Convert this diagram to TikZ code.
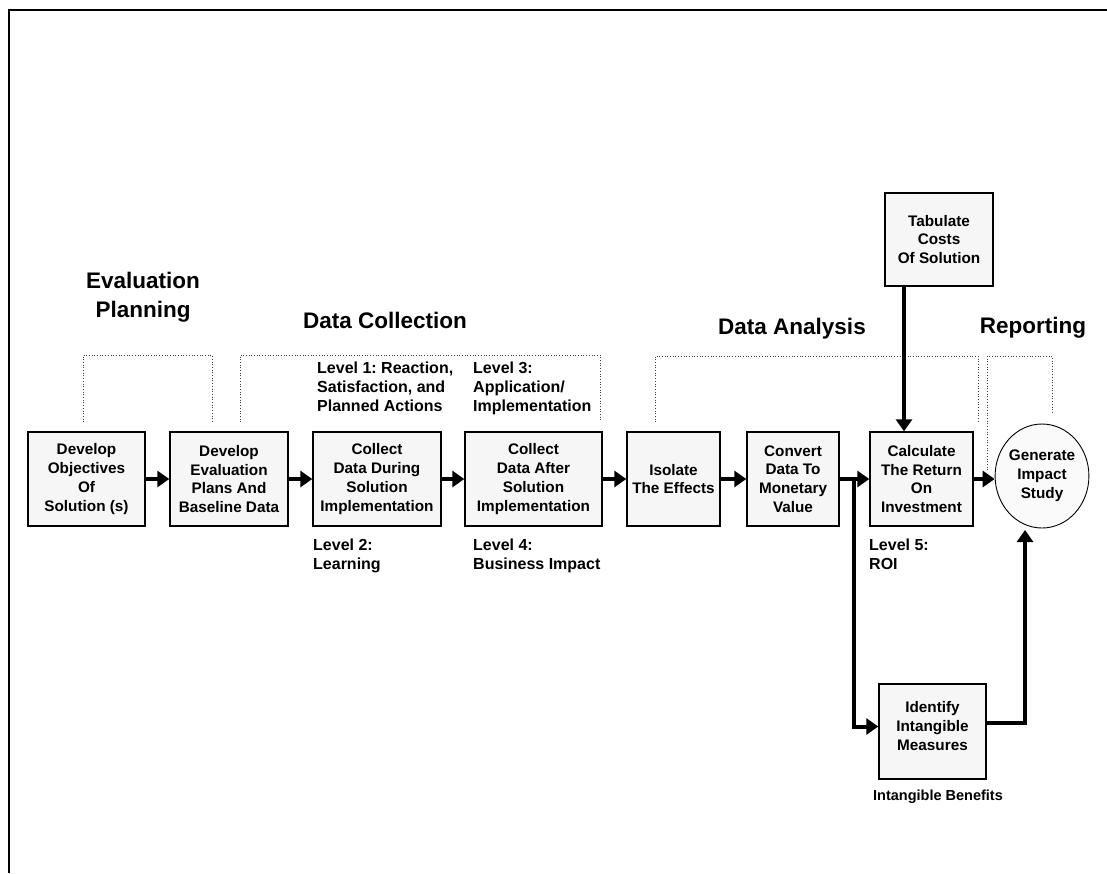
\documentclass[tikz,border=0pt]{standalone}
\usepackage{fontspec}
\setmainfont{Liberation Sans}
\usetikzlibrary{arrows.meta,shapes.geometric}
\frenchspacing
\begin{document}
\begin{tikzpicture}[x=1pt,y=-1pt,
  box/.style={draw=black,line width=1.4pt,fill=gray!7,inner sep=0pt,align=center,
    font=\bfseries\fontsize{15.3}{18.8}\selectfont},
  lvl/.style={anchor=north west,inner sep=0pt,align=left,
    font=\bfseries\fontsize{16}{18.8}\selectfont},
  hdr/.style={inner sep=0pt,align=center,font=\bfseries\fontsize{22.5}{29}\selectfont},
  arr/.style={line width=4pt,-{Triangle[width=16pt,length=12pt]}},
  brk/.style={dotted,line width=0.7pt,draw=black!75}]
\useasboundingbox (0,0) rectangle (1107,873);
% frame
\draw[line width=2pt] (9,873) -- (9,10) -- (1107,10);
% boxes
\node[box,minimum width=117pt,minimum height=94pt] (b1) at (86.5,479) {Develop\\Objectives\\Of\\Solution (s)};
\node[box,minimum width=118pt,minimum height=94pt] (b2) at (229,479) {Develop\\Evaluation\\Plans And\\Baseline Data};
\node[box,minimum width=128pt,minimum height=94pt] (b3) at (377,479) {Collect\\Data During\\Solution\\Implementation};
\node[box,minimum width=137pt,minimum height=94pt] (b4) at (533.5,479) {Collect\\Data After\\Solution\\Implementation};
\node[box,minimum width=93pt,minimum height=94pt] (b5) at (673.5,479) {Isolate\\The Effects};
\node[box,minimum width=92pt,minimum height=94pt] (b6) at (793,479) {Convert\\Data To\\Monetary\\Value};
\node[box,minimum width=103pt,minimum height=94pt] (b7) at (921.5,479) {Calculate\\The Return\\On\\Investment};
\node[box,minimum width=108pt,minimum height=93pt] (tab) at (939,239.5) {Tabulate\\Costs\\Of Solution};
\node[box,minimum width=107pt,minimum height=95pt] (idf) at (932.5,731.5) {};
\node[box,draw=none,fill=none] (idft) at (932.5,726) {Identify\\Intangible\\Measures};
\node[box,ellipse,fill=gray!4,line width=0.9pt,minimum width=92pt,minimum height=104pt] (circ) at (1042,476) {Generate\\Impact\\Study};
% headers
\node[hdr] (h1) at (143,297) {Evaluation\\Planning};
\node[hdr] (h2) at (385,320) {Data Collection};
\node[hdr] (h3) at (792,329) {Data Analysis};
\node[hdr] (h4) at (1033,328) {Reporting};
% level labels
\node[lvl] (l1) at (317,362) {Level 1: Reaction,\\Satisfaction, and\\Planned Actions};
\node[lvl] (l3) at (473,362) {Level 3:\\Application/\\Implementation};
\node[lvl] (l2) at (313,539) {Level 2:\\Learning};
\node[lvl] (l4) at (473,539) {Level 4:\\Business Impact};
\node[lvl] (l5) at (869,539) {Level 5:\\ROI};
\node[inner sep=0pt,font=\bfseries\fontsize{14.5}{17}\selectfont] (ib) at (938,797) {Intangible Benefits};
% brackets
\draw[brk] (83,422) -- (83,355) -- (212,355) -- (212,422);
\draw[brk] (240,422) -- (240,355) -- (600,355) -- (600,422);
\draw[brk] (655,422) -- (655,356) -- (978,356) -- (978,423);
\draw[brk] (987,470) -- (987,356) -- (1052,356) -- (1052,413);
% connectors
\draw[arr] (b1.east) -- (b2.west);
\draw[arr] (b2.east) -- (b3.west);
\draw[arr] (b3.east) -- (b4.west);
\draw[arr] (b4.east) -- (b5.west);
\draw[arr] (b5.east) -- (b6.west);
\draw[arr] (b6.east) -- (b7.west);
\draw[arr] (b7.east) -- (b7.east -| circ.west);
\coordinate (tx) at (904,0);
\draw[arr] (tab.south -| tx) -- (b7.north -| tx);
\coordinate (br) at (854,479);
\draw[arr,line cap=rect] (br) |- ([yshift=5pt]idf.west);
\coordinate (cin) at (1025,530);
\draw[arr] ([yshift=9pt]idf.east) -| (cin);
\end{tikzpicture}
\end{document}
